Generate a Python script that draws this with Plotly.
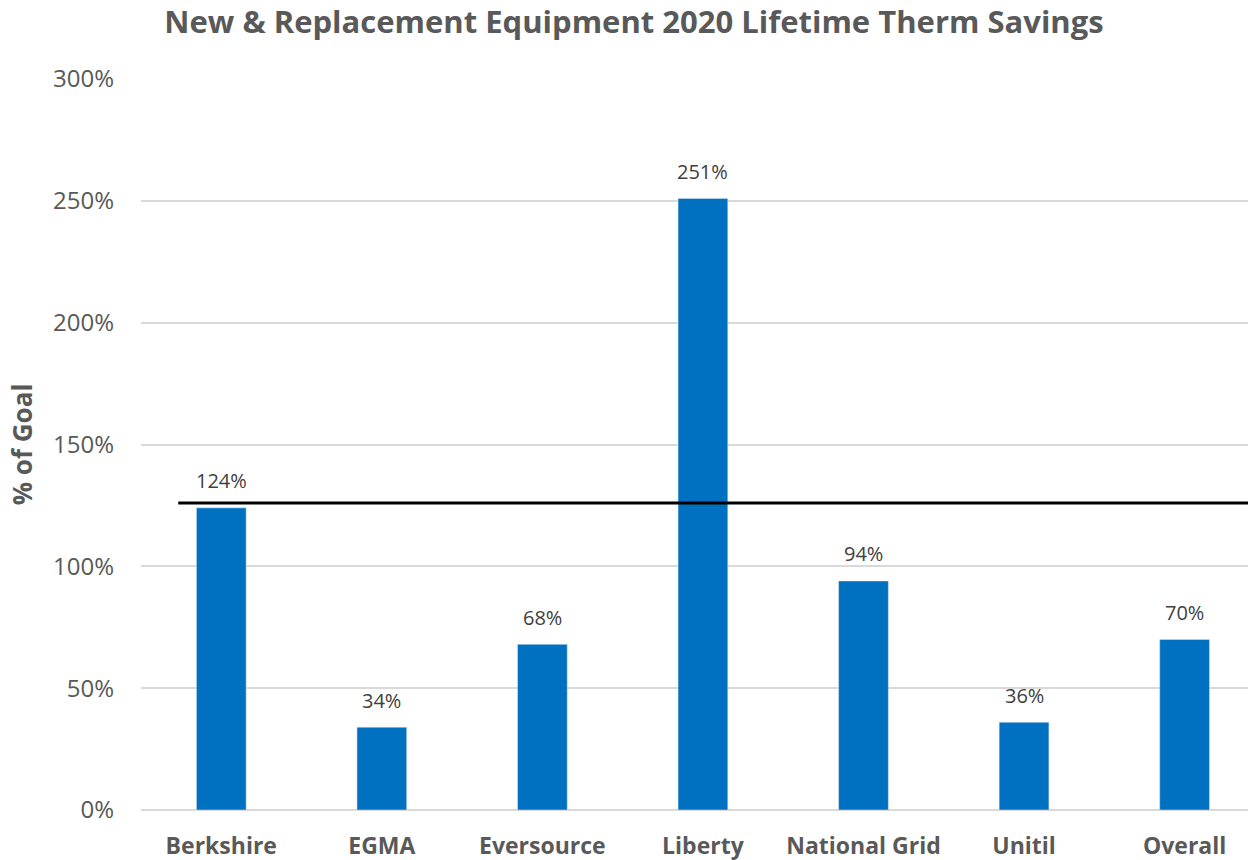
import plotly.graph_objects as go

categories = ["Berkshire", "EGMA", "Eversource", "Liberty", "National Grid", "Unitil", "Overall"]
pct_of_goal = [124, 34, 68, 251, 94, 36, 70]
goal_line = 126
tick_vals = [0, 50, 100, 150, 200, 250, 300]
tick_text = ["0%", "50%", "100%", "150%", "200%", "250%", "300%"]

FONT = "Open Sans"
GRAY = "#595959"

fig = go.Figure()
fig.add_trace(go.Bar(
    x=categories, y=pct_of_goal,
    marker_color="#0070C0",
    width=0.31,
    hoverinfo="x+y",
))

for c, v in zip(categories, pct_of_goal):
    fig.add_annotation(x=c, y=v, text=f"{v}%", showarrow=False,
                       yanchor="middle", yshift=27,
                       font=dict(family=FONT, size=20, color="#404040"))

fig.add_shape(type="line", xref="x", yref="y",
              x0=-0.268, x1=6.4, y0=goal_line, y1=goal_line,
              line=dict(color="black", width=3), layer="above")

fig.update_layout(
    width=1248, height=860,
    margin=dict(l=141, r=0, t=79, b=50),
    plot_bgcolor="white", paper_bgcolor="white",
    showlegend=False,
    title=dict(text="<b>New & Replacement Equipment 2020 Lifetime Therm Savings</b>",
               font=dict(family=FONT, size=31, color=GRAY),
               x=0.508, xanchor="center", y=0.974, yanchor="middle"),
    xaxis=dict(range=[-0.5, 6.395], showgrid=False, zeroline=False, showline=False,
               tickfont=dict(family=FONT, size=23, color=GRAY, weight="bold"),
               ticks="", ticklabelstandoff=20),
    yaxis=dict(range=[0, 300], tickvals=tick_vals, ticktext=tick_text,
               showgrid=True, gridcolor="#D9D9D9", gridwidth=1.5,
               zeroline=True, zerolinecolor="#D9D9D9", zerolinewidth=1.5,
               tickfont=dict(family=FONT, size=24, color=GRAY),
               ticks="", ticklabelstandoff=26,
               title=dict(text="<b>% of Goal</b>",
                          font=dict(family=FONT, size=26, color=GRAY),
                          standoff=12)),
)

fig.write_html("out.html", config={"displayModeBar": False},
               post_script="document.body.style.margin='0';")
